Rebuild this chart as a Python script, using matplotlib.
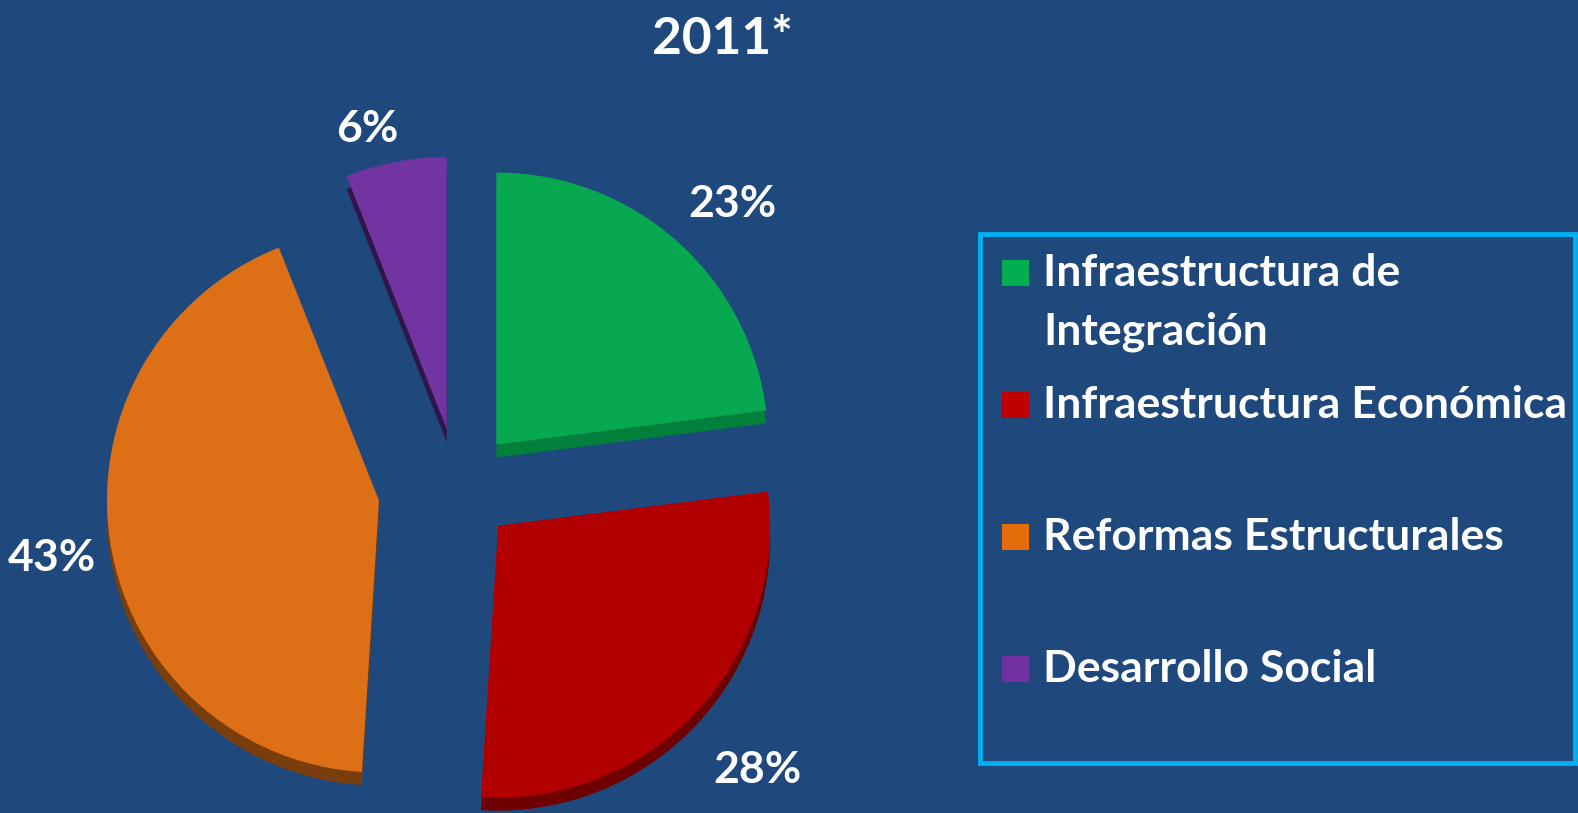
import matplotlib
matplotlib.use('Agg')
import matplotlib.pyplot as plt
from matplotlib.patches import Rectangle
import numpy as np

# Data
categories = ['Infraestructura de\nIntegración', 'Infraestructura Económica',
              'Reformas Estructurales', 'Desarrollo Social']
shares = [23, 28, 43, 6]
title = '2011*'

# Styling
bg = '#1F497D'
top_colors = ['#07A84F', '#B20000', '#DD6F16', '#7234A0']
side_colors = ['#00803B', '#6E0000', '#7A3E0C', '#2E1648']
legend_colors = ['#00B050', '#C00000', '#E46C0A', '#7030A0']
explode = [58, 55, 80, 60]
label_dist = [1.24, 1.31, 1.22, 1.14]
label_turn = [-3, 0, 1, 4]   # small angular nudge of the % labels, degrees
font = 'Lato'

W, H = 1578, 813
fig = plt.figure(figsize=(W / 100, H / 100), dpi=100, facecolor=bg)
ax = fig.add_axes([0, 0, 1, 1])
ax.set_facecolor(bg)

center = (458, H - 488)
radius = 272
depth = 13

# Side of the slices (fake 3D thickness), then the top faces
ax.pie(shares, explode=explode, colors=side_colors, radius=radius,
       center=(center[0], center[1] - depth), startangle=90, counterclock=False,
       wedgeprops=dict(linewidth=0))
wedges, _ = ax.pie(shares, explode=explode, colors=top_colors, radius=radius,
                   center=center, startangle=90, counterclock=False,
                   wedgeprops=dict(linewidth=0))

# Percentage labels placed from each wedge's own geometry
for w, val, d, t in zip(wedges, shares, label_dist, label_turn):
    ang = np.deg2rad(0.5 * (w.theta1 + w.theta2) + t)
    x = w.center[0] + d * w.r * np.cos(ang)
    y = w.center[1] + d * w.r * np.sin(ang)
    ax.text(x, y, '{0}%'.format(val), color='white', fontsize=32,
            fontweight='bold', family=font, ha='center', va='center')

ax.set_xlim(0, W)
ax.set_ylim(0, H)
ax.set_aspect('equal')
ax.axis('off')

fig.text(722 / W, 1 - 40 / H, title, color='white', fontsize=37,
         fontweight='bold', family=font, ha='center', va='center')

# Hand-made legend box
ax.add_patch(Rectangle((980, H - 763), 595, 529, fill=False,
                       edgecolor='#00B0F0', linewidth=3.5, zorder=5))
row_base = [286, 418, 550, 682]
for lab, col, rb in zip(categories, legend_colors, row_base):
    ax.add_patch(Rectangle((1002, H - rb), 27, 26, facecolor=col,
                           edgecolor='none', zorder=6))
    for k, line in enumerate(lab.split('\n')):
        ax.text(1043, H - rb - k * 59, line, color='white', fontsize=32,
                fontweight='bold', family=font, ha='left', va='baseline')

fig.savefig('out.png', dpi=100, facecolor=bg)
